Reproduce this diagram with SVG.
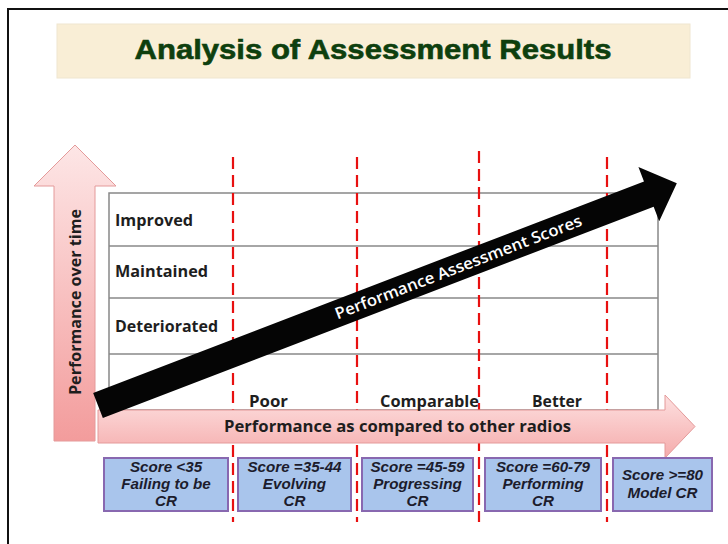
<svg xmlns="http://www.w3.org/2000/svg" width="728" height="544" viewBox="0 0 728 544">
<defs>
<linearGradient id="gV" x1="0" y1="0" x2="0" y2="1">
<stop offset="0" stop-color="#fde6e6"/>
<stop offset="1" stop-color="#f39c9c"/>
</linearGradient>
<linearGradient id="gH" x1="0" y1="0" x2="0" y2="1">
<stop offset="0" stop-color="#fde0e0"/>
<stop offset="1" stop-color="#f5abab"/>
</linearGradient>
<style>
.lbl{font-family:"Open Sans",Lato,sans-serif;font-weight:700;font-size:16px;fill:#1e1e1e}
.box{fill:#a9c5ec;stroke:#8868b0;stroke-width:2}
.bt{font-family:"Liberation Sans",Arial,sans-serif;font-weight:700;font-style:italic;font-size:15.2px;fill:#1c1c2c;text-anchor:middle}
.grid{stroke:#888;stroke-width:1.5;fill:none}
.dash{stroke:#e81010;stroke-width:2.2;stroke-dasharray:12 6;fill:none}
.pink{stroke:#e49a9a;stroke-width:1}
</style>
</defs>
<rect x="8" y="9" width="740" height="560" fill="#fff" stroke="#111" stroke-width="2"/>
<g id="title">
<rect x="57" y="24" width="633" height="54" fill="#f9eed6" stroke="#efe6d0" stroke-width="1"/>
<text x="373" y="59" text-anchor="middle" font-family="'Liberation Sans',Arial,sans-serif" font-weight="700" font-size="28" fill="#0e3f0e" stroke="#0e3f0e" stroke-width="0.6" textLength="477" lengthAdjust="spacingAndGlyphs">Analysis of Assessment Results</text>
</g>
<g id="vertical-axis">
<polygon class="pink" points="75,145 116,186 95,186 95,441 54,441 54,186 34,186" fill="url(#gV)"/>
<text class="lbl" transform="translate(81,302) rotate(-90)" text-anchor="middle" textLength="186" lengthAdjust="spacingAndGlyphs">Performance over time</text>
</g>
<g id="grid">
<rect class="grid" x="109" y="193" width="549" height="217"/>
<line class="grid" x1="109" y1="246" x2="658" y2="246"/>
<line class="grid" x1="109" y1="298" x2="658" y2="298"/>
<line class="grid" x1="109" y1="354" x2="658" y2="354"/>
<text class="lbl" x="115" y="226" textLength="78" lengthAdjust="spacingAndGlyphs">Improved</text>
<text class="lbl" x="115" y="277" textLength="93" lengthAdjust="spacingAndGlyphs">Maintained</text>
<text class="lbl" x="115" y="332" textLength="103" lengthAdjust="spacingAndGlyphs">Deteriorated</text>
</g>
<g id="connectors">
<line class="dash" x1="233" y1="157" x2="233" y2="522"/>
<line class="dash" x1="357" y1="157" x2="357" y2="522"/>
<line class="dash" x1="479" y1="151" x2="479" y2="522"/>
<line class="dash" x1="607" y1="157" x2="607" y2="522"/>
</g>
<g id="horizontal-axis">
<polygon class="pink" points="98,410 665,410 665,395 695,426.5 665,458 665,443 98,443" fill="url(#gH)"/>
<text class="lbl" x="397.5" y="432" text-anchor="middle" textLength="347" lengthAdjust="spacingAndGlyphs">Performance as compared to other radios</text>
<text class="lbl" x="268.5" y="407" text-anchor="middle" textLength="39" lengthAdjust="spacingAndGlyphs">Poor</text>
<text class="lbl" x="429.5" y="407" text-anchor="middle" textLength="99" lengthAdjust="spacingAndGlyphs">Comparable</text>
<text class="lbl" x="557" y="407" text-anchor="middle" textLength="50" lengthAdjust="spacingAndGlyphs">Better</text>
</g>
<g id="score-arrow" transform="translate(98,405.5) rotate(-21)">
<polygon points="0,-13.5 590,-13.5 590,-29 620,0 590,29 590,13.5 0,13.5" fill="#050505"/>
<text x="386" y="5.5" text-anchor="middle" font-family="'Open Sans',Lato,sans-serif" font-weight="600" font-size="16" fill="#fff" textLength="263" lengthAdjust="spacingAndGlyphs">Performance Assessment Scores</text>
</g>
<g id="box1">
<rect class="box" x="104" y="458" width="124" height="53"/>
<text class="bt" x="166" y="472">Score &lt;35</text>
<text class="bt" x="166" y="489">Failing to be</text>
<text class="bt" x="166" y="506">CR</text>
</g>
<g id="box2">
<rect class="box" x="238" y="458" width="113" height="53"/>
<text class="bt" x="294.5" y="472">Score =35-44</text>
<text class="bt" x="294.5" y="489">Evolving</text>
<text class="bt" x="294.5" y="506">CR</text>
</g>
<g id="box3">
<rect class="box" x="362" y="458" width="111" height="53"/>
<text class="bt" x="417.5" y="472">Score =45-59</text>
<text class="bt" x="417.5" y="489">Progressing</text>
<text class="bt" x="417.5" y="506">CR</text>
</g>
<g id="box4">
<rect class="box" x="485" y="458" width="116" height="53"/>
<text class="bt" x="543" y="472">Score =60-79</text>
<text class="bt" x="543" y="489">Performing</text>
<text class="bt" x="543" y="506">CR</text>
</g>
<g id="box5">
<rect class="box" x="613" y="458" width="99" height="53"/>
<text class="bt" x="662.5" y="480">Score &gt;=80</text>
<text class="bt" x="662.5" y="498">Model CR</text>
</g>
</svg>
